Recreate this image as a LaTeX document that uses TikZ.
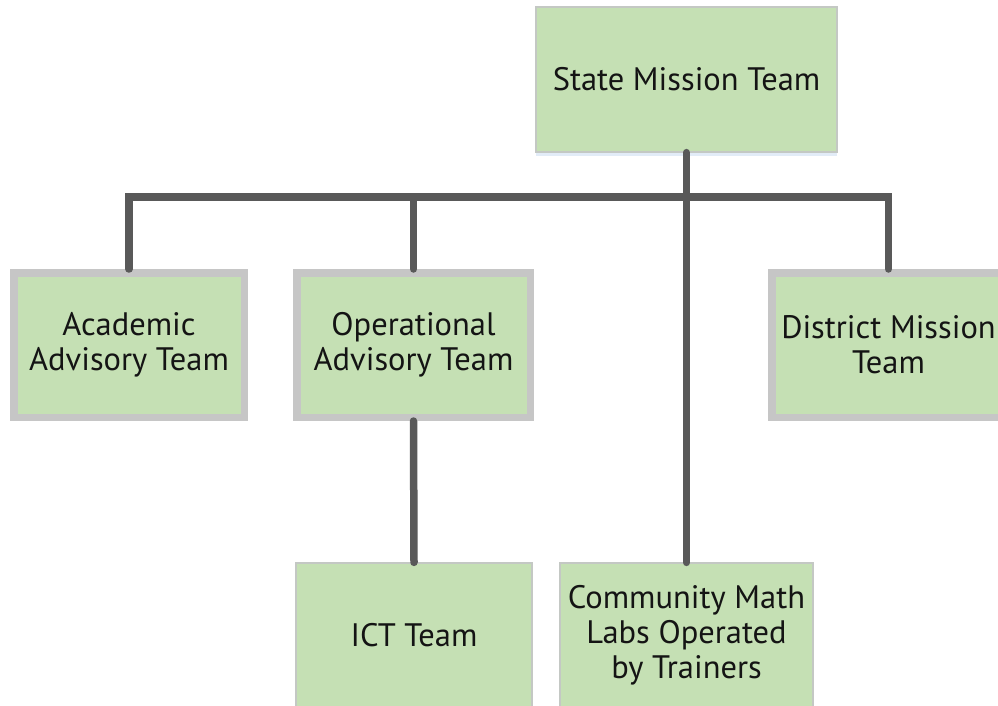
\documentclass[tikz,border=0pt]{standalone}
\usepackage{fontspec}
\setmainfont{PT Sans}
\definecolor{boxgreen}{HTML}{C5E0B4}
\definecolor{thinedge}{HTML}{C4C8C4}
\definecolor{frame}{HTML}{C6C6C6}
\definecolor{linkgray}{HTML}{595959}
\definecolor{haze}{HTML}{E2ECF7}
\begin{document}
\begin{tikzpicture}[x=1pt,y=-1pt,
  label/.style={font=\fontsize{32.5}{35}\selectfont, text=black!92, align=center, inner sep=0pt},
  halo/.style={preaction={fill=haze, transform canvas={yshift=-4pt}}},
  unitbox/.style={label, halo, fill=boxgreen, draw=thinedge, line width=1.2pt},
  teambox/.style={label, halo, fill=boxgreen, draw=frame, line width=7.5pt},
  link/.style={draw=linkgray, line width=7.5pt, line cap=round, line join=miter}
]
\path[use as bounding box] (0,0) rectangle (998,706);
\clip (0,0) rectangle (998,706);
\fill[white] (0,0) rectangle (998,706);

% top level
\node[unitbox, minimum width=301pt, minimum height=145pt] (state) at (686.5,79.5) {State Mission Team};

% advisory and district teams
\node[teambox, minimum width=230.5pt, minimum height=144.5pt] (acad) at (129,345) {Academic\\Advisory Team};
\node[teambox, minimum width=233.5pt, minimum height=144.5pt] (ops) at (413.5,345) {Operational\\Advisory Team};
\node[teambox, minimum width=233.5pt, minimum height=144.5pt] (dist) at (888.5,345) {District Mission\\Team};

% field level
\node[unitbox, minimum width=236pt, minimum height=145pt] (ict) at (414,635.5) {ICT Team};
\node[unitbox, minimum width=253pt, minimum height=145pt] (comm) at (686.5,635.5) {Community Math\\Labs Operated\\by Trainers};

% connectors
\coordinate (bar) at (686.5,197);
\draw[link] (acad.north) |- (bar) -| (dist.north);
\draw[link] (ops.north) -- (ops.north |- bar);
\draw[link] (state.south) -- (comm.north);
\draw[link] (ops.south) -- (ict.north);
\end{tikzpicture}
\end{document}
